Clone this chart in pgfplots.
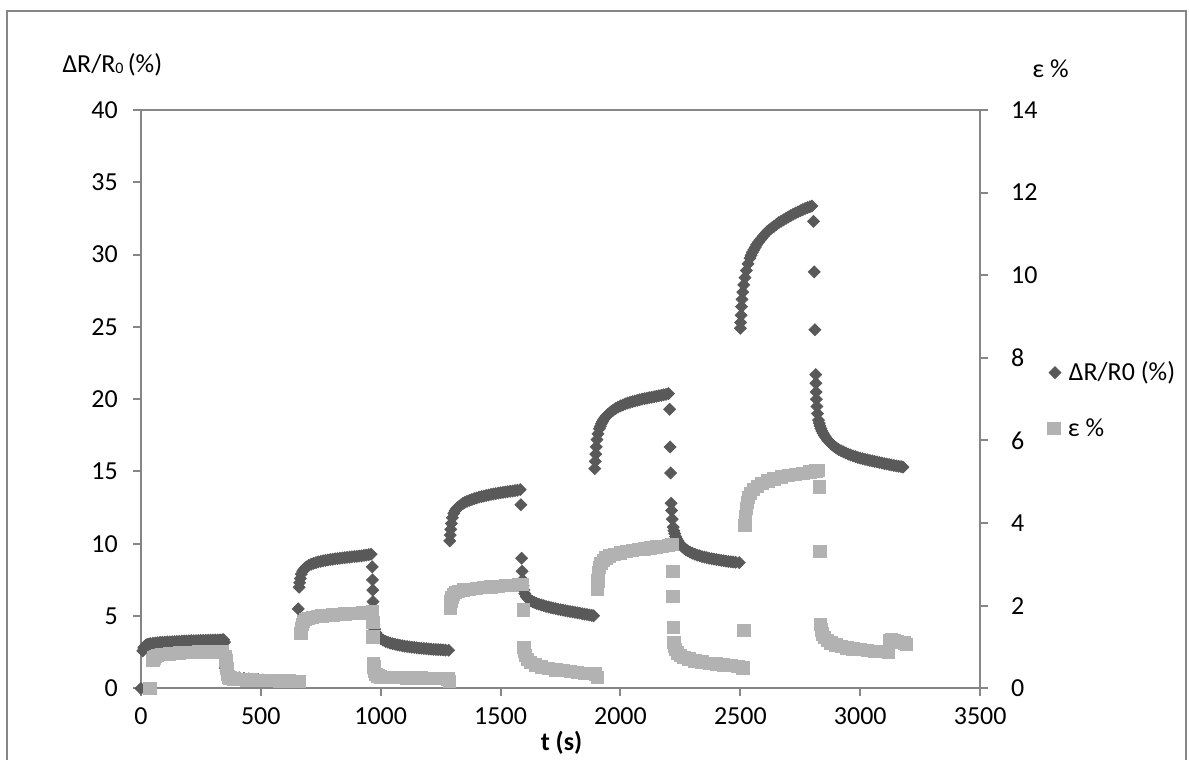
\documentclass[border=0pt]{standalone}
\usepackage{fontspec}
\setmainfont{Carlito}
\usepackage{pgfplots}
\pgfplotsset{compat=1.18}
\definecolor{darkser}{RGB}{89,89,89}
\definecolor{lightser}{RGB}{178,178,178}
\definecolor{axisgray}{RGB}{134,134,134}
\begin{document}
\begin{tikzpicture}
\useasboundingbox (-70.5pt,-35.5pt) rectangle (524.5pt,344.5pt);
\draw[axisgray, line width=0.8pt] (-67pt,-40pt) rectangle (523pt,339pt);
\pgfplotsset{
  common/.style={
    scale only axis, width=420pt, height=289.5pt,
    xmin=0, xmax=3500,
    axis line style={draw=axisgray, line width=1pt},
    tick style={draw=axisgray, line width=1pt},
    tick align=outside, major tick length=4pt,
    ticklabel style={font=\fontsize{13}{15}\selectfont},
    xticklabel shift=2pt,
    /pgf/number format/assume math mode=true,
    /pgf/number format/1000 sep={},
    legend style={draw=none, fill=none, inner sep=0pt, column sep=2pt, font=\fontsize{13}{15}\selectfont, nodes={inner sep=2pt}},
    legend image code/.code={\draw[##1] plot coordinates {(0pt,0pt)};},
  }
}
\begin{axis}[common,
  ymin=0, ymax=40,
  axis x line*=bottom, axis y line*=left,
  yticklabel shift=4pt,
  xtick={0,500,...,3500}, ytick={0,5,...,40},
  every axis y label/.style={at={(axis description cs:-0.034,1.0777)},anchor=center,font=\fontsize{13}{15}\selectfont},
  ylabel={ΔR/R\raisebox{-0.1ex}{\fontsize{8}{9}\selectfont 0}\,(\%)},
  every axis x label/.style={at={(axis description cs:0.5012,-0.0941)},anchor=center,font=\bfseries\fontsize{13}{15}\selectfont},
  xlabel={t (s)},
  legend style={at={(axis description cs:1.0816,0.5458)}, anchor=west},
]
\addplot[darkser, only marks, mark=square*, mark size=2.1pt, mark options={rotate=45, fill=darkser, draw=none}] coordinates {
(0,0)
(8,2.6) (12,2.8) (16,2.9) (20,2.97) (25,3.02) (30,3.05) (35,3.07) (40,3.09) (50,3.12) (60,3.14) (70,3.16) (80,3.18) (90,3.19) (100,3.2) (110,3.21) (120,3.22) (130,3.23) (140,3.24) (150,3.25) (160,3.26) (170,3.27) (180,3.28) (190,3.28) (200,3.29) (210,3.3) (220,3.3) (230,3.31) (240,3.31) (250,3.32) (260,3.32) (270,3.33) (280,3.33) (290,3.34) (300,3.34) (310,3.35) (320,3.35) (330,3.36) (340,3.36) (345,3.37) (349,3.2)
(352,1.4) (355,1.2) (360,1.05) (367,0.95) (375,0.88) (390,0.8) (410,0.74) (430,0.7) (450,0.66) (470,0.63) (490,0.6) (510,0.58) (530,0.56) (550,0.54) (570,0.52) (590,0.5) (610,0.48) (630,0.47) (650,0.45)
(656,5.5) (660,7.0) (662,7.3) (665,7.6) (669,7.9) (675,8.1) (680,8.22) (685,8.32) (690,8.4) (700,8.5) (710,8.58) (720,8.65) (730,8.7) (740,8.75) (750,8.79) (760,8.82) (770,8.85) (780,8.88) (790,8.91) (800,8.93) (810,8.96) (820,8.98) (830,9.0) (840,9.02) (850,9.04) (860,9.06) (870,9.08) (880,9.1) (890,9.12) (900,9.13) (910,9.15) (920,9.17) (930,9.2) (940,9.22) (950,9.25) (960,9.28)
(965,8.4) (966,7.5) (967,6.8) (968,6.0) (970,4.8) (972,4.4) (975,4.1) (980,3.85) (985,3.7) (990,3.6) (995,3.52) (1000,3.44) (1010,3.34) (1020,3.25) (1030,3.19) (1040,3.13) (1050,3.09) (1060,3.05) (1070,3.01) (1080,2.98) (1090,2.95) (1100,2.92) (1110,2.9) (1120,2.87) (1130,2.85) (1140,2.83) (1150,2.81) (1160,2.79) (1170,2.78) (1180,2.76) (1190,2.75) (1200,2.73) (1210,2.72) (1220,2.7) (1230,2.69) (1240,2.68) (1250,2.67) (1260,2.66) (1270,2.65) (1283,2.64)
(1288,10.2) (1290,10.6) (1292,11.0) (1295,11.4) (1299,11.8) (1305,12.1) (1310,12.28) (1315,12.4) (1320,12.5) (1328,12.6) (1335,12.7) (1342,12.78) (1350,12.85) (1360,12.93) (1370,13.0) (1380,13.06) (1390,13.12) (1400,13.17) (1410,13.22) (1420,13.26) (1430,13.3) (1440,13.34) (1450,13.37) (1460,13.41) (1470,13.44) (1480,13.47) (1490,13.5) (1500,13.53) (1510,13.55) (1520,13.58) (1530,13.6) (1540,13.63) (1550,13.65) (1560,13.68) (1570,13.7) (1582,13.75)
(1585,12.7) (1588,9.0) (1590,8.1) (1592,7.5) (1594,7.1) (1597,6.8) (1601,6.55) (1607,6.35) (1615,6.2) (1625,6.08) (1633,6.0) (1640,5.95) (1650,5.88) (1660,5.82) (1670,5.77) (1680,5.72) (1690,5.67) (1700,5.63) (1710,5.59) (1720,5.55) (1730,5.51) (1740,5.48) (1750,5.44) (1760,5.41) (1770,5.38) (1780,5.35) (1790,5.32) (1800,5.29) (1810,5.26) (1820,5.23) (1830,5.2) (1840,5.17) (1850,5.14) (1860,5.11) (1870,5.08) (1880,5.05) (1888,5.02)
(1893,15.2) (1895,15.7) (1897,16.2) (1899,16.7) (1902,17.2) (1906,17.6) (1912,17.95) (1916,18.13) (1920,18.3) (1925,18.45) (1930,18.6) (1936,18.73) (1942,18.85) (1948,18.95) (1955,19.05) (1962,19.15) (1970,19.25) (1980,19.35) (1990,19.45) (2000,19.53) (2010,19.6) (2020,19.67) (2030,19.73) (2040,19.78) (2050,19.83) (2060,19.88) (2070,19.92) (2080,19.96) (2090,20.0) (2100,20.04) (2110,20.07) (2120,20.1) (2130,20.13) (2140,20.17) (2150,20.2) (2160,20.24) (2170,20.27) (2180,20.3) (2190,20.33) (2200,20.38)
(2205,19.3) (2207,16.7) (2209,14.9) (2211,12.8) (2213,12.3) (2216,11.7) (2220,11.15) (2223,10.9) (2226,10.7) (2230,10.5) (2234,10.35) (2240,10.2) (2245,10.05) (2252,9.92) (2258,9.8) (2265,9.7) (2272,9.6) (2280,9.52) (2290,9.42) (2300,9.35) (2310,9.28) (2320,9.22) (2330,9.17) (2340,9.12) (2350,9.08) (2360,9.04) (2370,9.0) (2380,8.97) (2390,8.94) (2400,8.91) (2410,8.88) (2420,8.85) (2430,8.83) (2440,8.8) (2450,8.78) (2460,8.76) (2470,8.74) (2480,8.72) (2495,8.7)
(2500,24.9) (2501,25.3) (2503,25.8) (2505,26.4) (2507,26.9) (2510,27.4) (2514,27.9) (2519,28.4) (2525,28.9) (2532,29.35) (2540,29.75) (2545,29.95) (2550,30.15) (2556,30.33) (2562,30.5) (2568,30.68) (2575,30.85) (2582,31.0) (2590,31.15) (2597,31.3) (2605,31.45) (2612,31.58) (2620,31.7) (2630,31.83) (2640,31.95) (2650,32.08) (2660,32.2) (2670,32.3) (2680,32.4) (2690,32.5) (2700,32.6) (2710,32.69) (2720,32.78) (2730,32.87) (2740,32.95) (2750,33.03) (2760,33.1) (2770,33.18) (2780,33.25) (2790,33.3) (2798,33.35)
(2805,32.3) (2808,28.8) (2811,24.8) (2814,21.7) (2815,21.1) (2816,20.5) (2817,20.0) (2819,19.5) (2822,19.0) (2826,18.55) (2829,18.35) (2832,18.15) (2836,17.97) (2840,17.8) (2845,17.65) (2850,17.5) (2856,17.35) (2862,17.2) (2869,17.07) (2876,16.95) (2884,16.83) (2892,16.72) (2900,16.62) (2910,16.52) (2920,16.43) (2930,16.35) (2940,16.27) (2950,16.2) (2960,16.14) (2970,16.08) (2980,16.02) (2990,15.97) (3000,15.92) (3010,15.88) (3020,15.84) (3030,15.8) (3040,15.76) (3050,15.73) (3060,15.69) (3070,15.66) (3080,15.62) (3090,15.59) (3100,15.55) (3110,15.52) (3120,15.48) (3130,15.45) (3140,15.42) (3150,15.39) (3160,15.36) (3170,15.33) (3178,15.3)
};
\addlegendentry{ΔR/R0 (\%)}
\end{axis}
\begin{axis}[common,
  ymin=0, ymax=14,
  axis x line=none, axis y line*=right,
  yticklabel shift=8pt,
  ytick={0,2,...,14},
  every axis y label/.style={at={(axis description cs:1.0839,1.0717)},anchor=center,font=\fontsize{13}{15}\selectfont},
  ylabel={ε \%},
  legend style={at={(axis description cs:1.0798,0.449)}, anchor=west},
]
\draw[axisgray, line width=1pt] (rel axis cs:0,1) -- (rel axis cs:1,1);
\addplot[lightser, only marks, mark=square*, mark size=3.1pt, mark options={fill=lightser, draw=none}] coordinates {
(38,0.0)
(50,0.68) (54,0.74) (60,0.78) (70,0.8) (85,0.82) (100,0.83) (120,0.84) (140,0.85) (160,0.86) (180,0.865) (200,0.87) (220,0.875) (240,0.88) (260,0.882) (280,0.885) (300,0.888) (320,0.89) (340,0.9)
(352,0.78) (355,0.68) (357,0.58) (359,0.48) (362,0.35) (366,0.28) (372,0.25) (385,0.23) (400,0.22) (420,0.215) (440,0.21) (460,0.205) (480,0.2) (500,0.2) (520,0.195) (540,0.19) (560,0.19) (580,0.185) (600,0.18) (620,0.18) (640,0.175) (660,0.17)
(668,1.33) (670,1.45) (673,1.55) (678,1.62) (686,1.67) (698,1.7) (715,1.72) (735,1.74) (755,1.755) (775,1.77) (800,1.78) (825,1.79) (850,1.8) (875,1.81) (900,1.82) (925,1.83) (950,1.84) (965,1.85)
(967,1.6) (968,1.25) (970,0.6) (972,0.52) (975,0.42) (980,0.34) (988,0.3) (1000,0.28) (1020,0.27) (1050,0.26) (1080,0.26) (1110,0.255) (1140,0.25) (1170,0.25) (1200,0.245) (1230,0.24) (1260,0.24) (1280,0.235) (1287,0.17)
(1290,1.95) (1293,2.1) (1297,2.2) (1303,2.27) (1312,2.32) (1325,2.35) (1345,2.38) (1370,2.4) (1400,2.42) (1430,2.44) (1460,2.46) (1490,2.475) (1520,2.49) (1550,2.5) (1575,2.51) (1592,2.52)
(1595,1.9) (1598,1.0) (1600,0.9) (1604,0.8) (1612,0.7) (1625,0.63) (1645,0.57) (1670,0.52) (1700,0.48) (1730,0.45) (1760,0.43) (1790,0.41) (1820,0.39) (1850,0.37) (1875,0.36) (1895,0.35) (1905,0.27)
(1903,2.4) (1906,2.6) (1909,2.8) (1913,2.93) (1919,3.03) (1928,3.1) (1940,3.16) (1955,3.21) (1975,3.25) (2000,3.28) (2025,3.31) (2050,3.34) (2075,3.36) (2100,3.38) (2125,3.4) (2150,3.42) (2175,3.44) (2200,3.46) (2215,3.48)
(2218,2.83) (2219,2.22) (2220,1.47) (2222,1.12) (2225,1.02) (2230,0.94) (2238,0.86) (2250,0.8) (2265,0.75) (2285,0.71) (2310,0.67) (2340,0.64) (2370,0.61) (2400,0.59) (2430,0.57) (2460,0.55) (2490,0.53) (2510,0.5)
(2514,1.4) (2519,3.95) (2521,4.15) (2524,4.35) (2528,4.5) (2534,4.62) (2543,4.72) (2555,4.81) (2570,4.89) (2590,4.96) (2615,5.02) (2640,5.07) (2670,5.12) (2700,5.15) (2730,5.18) (2760,5.21) (2790,5.24) (2815,5.26) (2826,5.27)
(2829,4.88) (2831,3.31) (2834,1.55) (2837,1.42) (2842,1.32) (2850,1.23) (2862,1.16) (2878,1.1) (2898,1.05) (2920,1.01) (2945,0.98) (2970,0.96) (3000,0.94) (3030,0.92) (3060,0.9) (3090,0.89) (3118,0.87)
(3122,1.16) (3130,1.17) (3140,1.15) (3155,1.13) (3170,1.12) (3185,1.1) (3192,1.06)
};
\addlegendentry{ε \%}
\end{axis}
\end{tikzpicture}
\end{document}
